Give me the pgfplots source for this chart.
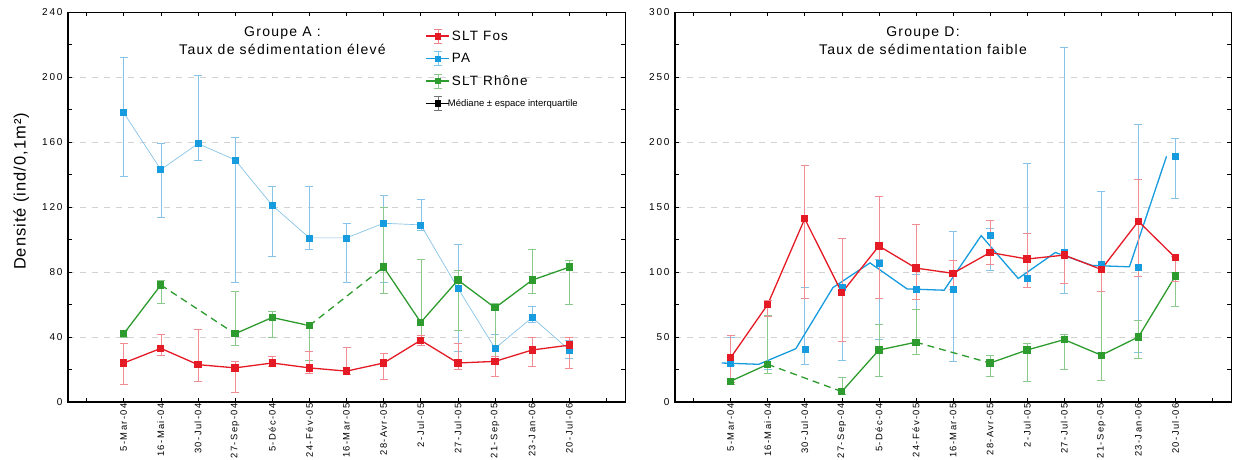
\documentclass[border=0pt]{standalone}
\usepackage{pgfplots}
\pgfplotsset{compat=1.18}
\usepackage{pgfplotstable}
\usepackage{fontspec}
\setmainfont{Liberation Sans}
\newfontfamily\tickfont[LetterSpace=18]{Liberation Sans}
\newfontfamily\xtickfont[LetterSpace=15]{Liberation Sans}
\newfontfamily\titlefont[LetterSpace=9]{Liberation Sans}
\newfontfamily\labfont[LetterSpace=6]{Liberation Sans}
\definecolor{cred}{RGB}{228,26,36}
\definecolor{cblue}{RGB}{22,155,222}
\definecolor{cbluel}{RGB}{135,195,230}
\definecolor{cgreen}{RGB}{45,155,45}

% Groupe A
\pgfplotstableread{
x y lo hi
0 178 139 212
1 143 114 159
2 159 149 201
3 149 74 163
4 121 90 133
5 101 94 133
6 101 74 110
7 110 74 127
8 109 106 125
9 70 31 97
10 33 28 42
11 52 49 59
12 32 27 38
}\paA
\pgfplotstableread{
x y lo hi
0 24 11 36
1 33 29 42
2 23 13 45
3 21 6 25
4 24 22 28
5 21 18 31
6 19 17 34
7 24 14 30
8 38 35 41
9 24 20 36
10 25 16 28
11 32 22 40
12 35 21 40
}\fosA
\pgfplotstableread{
x y lo hi
0 42 40 44
1 72 61 75
2 nan nan nan
3 42 35 68
4 52 40 56
5 47 26 48
6 nan nan nan
7 83 67 120
8 49 40 88
9 75 44 81
10 58 28 61
11 75 67 94
12 83 60 87
}\rhoA
% Groupe D
\pgfplotstableread{
x y lo hi
0 30 28 50
1 29 25 66
2 41 29 88
3 88 32 90
4 107 48 110
5 87 71 98
6 87 31 131
7 128 101 134
8 95 88 184
9 115 84 273
10 106 38 162
11 104 38 214
12 189 157 203
}\paD
\pgfplotstableread{
x y
-0.24 30
0.76 29
1.76 41
2.76 88
3.76 107
4.76 87
5.76 86
6.76 128
7.76 95
8.76 115
9.76 105
10.76 104
11.76 189
}\paDline
\pgfplotstableread{
x y lo hi
0 34 15 51
1 75 66 78
2 141 80 182
3 84 47 126
4 120 80 158
5 103 79 137
6 99 87 109
7 115 106 140
8 110 88 130
9 113 91 114
10 102 85 104
11 139 97 171
12 111 93 112
}\fosD
\pgfplotstableread{
x y lo hi
0 16 14 18
1 29 22 67
2 nan nan nan
3 8 6 19
4 40 20 60
5 46 37 71
6 nan nan nan
7 30 20 36
8 40 16 45
9 48 25 52
10 36 17 85
11 50 34 63
12 97 74 100
}\rhoD

\pgfplotsset{
  base/.style={
    anchor=south west, scale only axis, width=557pt, height=390pt,
    xmin=-1.5, xmax=13.5,
    xtick={-1,...,13},
    xticklabels={{},5-Mar-04,16-Mai-04,30-Jul-04,27-Sep-04,5-Déc-04,24-Fév-05,16-Mar-05,28-Avr-05,2-Jul-05,27-Jul-05,21-Sep-05,23-Jan-06,20-Jul-06,{}},
    xticklabel style={rotate=90, anchor=east, inner sep=1pt, font=\xtickfont\fontsize{9.4}{11}\selectfont},
    yticklabel style={font=\tickfont\fontsize{10}{12}\selectfont, xshift=-2pt},
    /pgf/number format/assume math mode=true,
    tick align=inside, major tick length=4pt, minor tick length=4pt,
    minor y tick num=1,
    tick style={black, line width=0.6pt},
    ymajorgrids, major grid style={gray!35, dash pattern=on 6pt off 6pt, line width=0.5pt},
    axis line style={line width=0.8pt},
    unbounded coords=jump,
    clip=false,
  },
  eb/.style={error bars/.cd, y dir=both, y explicit,
     error bar style={#1, line width=0.5pt, solid},
     error mark=-,
     error mark options={rotate=90, #1, mark size=4pt, line width=0.5pt, solid}},
  sq/.style={mark=square*, mark size=3pt, mark options={solid, fill=#1, draw=#1}},
  legimg/.style={legend image code/.code={
     \draw[line width=1.1pt] (0pt,0pt) -- (23pt,0pt);
     \draw[line width=0.5pt, opacity=0.55] (11.5pt,-7pt) -- (11.5pt,7pt) (7.5pt,7pt) -- (15.5pt,7pt) (7.5pt,-7pt) -- (15.5pt,-7pt);
     \fill (8.8pt,-2.7pt) rectangle (14.2pt,2.7pt);
  }},
}

\begin{document}
\begin{tikzpicture}[x=1pt,y=1pt]
\path[use as bounding box] (0,0) rectangle (1233,459);
% ---------- Groupe A ----------
\begin{axis}[base, at={(68pt,57pt)},
  ymin=0, ymax=240, ytick={0,40,...,240},
  ylabel={Densité (ind/0,1m²)},
  every axis y label/.style={at={(axis description cs:-0.084,0.54)}, rotate=90, anchor=center, font=\labfont\fontsize{16.5}{18}\selectfont},
  legend style={at={(axis description cs:0.642,0.958)}, anchor=north west, draw=none, fill=none, inner sep=0pt, row sep=7.5pt,
     font=\titlefont\fontsize{13.5}{15}\selectfont, cells={anchor=west}, nodes={inner sep=2pt}},
]
\addlegendimage{cred, legimg}\addlegendentry{SLT Fos}
\addlegendimage{cblue, legimg}\addlegendentry{PA}
\addlegendimage{cgreen, legimg}\addlegendentry{SLT Rhône}
\addlegendimage{black, legimg}\addlegendentry{\normalfont\fontsize{9.5}{11}\selectfont\hspace{-4pt}Médiane ± espace interquartile}

\addplot[forget plot, cbluel, line width=0.7pt, sq=cblue, eb=cbluel] table[x=x, y=y, y error plus expr=\thisrow{hi}-\thisrow{y}, y error minus expr=\thisrow{y}-\thisrow{lo}] {\paA};
\addplot[forget plot, cgreen, line width=1.3pt, sq=cgreen, eb=cgreen!55] table[x=x, y=y, y error plus expr=\thisrow{hi}-\thisrow{y}, y error minus expr=\thisrow{y}-\thisrow{lo}] {\rhoA};
\addplot[forget plot, cgreen, line width=1.3pt, dash pattern=on 7pt off 5pt] coordinates {(1,72) (3,42)};
\addplot[forget plot, cgreen, line width=1.3pt, dash pattern=on 7pt off 5pt] coordinates {(5,47) (7,83)};
\addplot[forget plot, cred, line width=1.3pt, sq=cred, eb=cred!50] table[x=x, y=y, y error plus expr=\thisrow{hi}-\thisrow{y}, y error minus expr=\thisrow{y}-\thisrow{lo}] {\fosA};

\node[align=center, font=\titlefont\fontsize{14}{18}\selectfont] at (axis description cs:0.385,0.926) {Groupe A :\\Taux de sédimentation élevé};
\draw[line width=1.4pt] (rel axis cs:0,1) -- (rel axis cs:0,0) -- (rel axis cs:1,0);
\end{axis}
% ---------- Groupe D ----------
\begin{axis}[base, at={(675pt,57pt)}, width=556pt,
  ymin=0, ymax=300, ytick={0,50,...,300},
]
\addplot[only marks, cblue, sq=cblue, eb=cbluel] table[x=x, y=y, y error plus expr=\thisrow{hi}-\thisrow{y}, y error minus expr=\thisrow{y}-\thisrow{lo}] {\paD};
\addplot[cblue, line width=1.3pt, no marks] table[x=x, y=y] {\paDline};
\addplot[cgreen, line width=1.3pt, sq=cgreen, eb=cgreen!55] table[x=x, y=y, y error plus expr=\thisrow{hi}-\thisrow{y}, y error minus expr=\thisrow{y}-\thisrow{lo}] {\rhoD};
\addplot[cgreen, line width=1.3pt, dash pattern=on 7pt off 5pt] coordinates {(1,29) (3,8)};
\addplot[cgreen, line width=1.3pt, dash pattern=on 7pt off 5pt] coordinates {(5,46) (7,30)};
\addplot[cred, line width=1.3pt, sq=cred, eb=cred!50] table[x=x, y=y, y error plus expr=\thisrow{hi}-\thisrow{y}, y error minus expr=\thisrow{y}-\thisrow{lo}] {\fosD};

\node[align=center, font=\titlefont\fontsize{14}{18}\selectfont] at (axis description cs:0.446,0.926) {Groupe D:\\Taux de sédimentation faible};
\draw[line width=1.4pt] (rel axis cs:0,1) -- (rel axis cs:0,0) -- (rel axis cs:1,0);
\end{axis}
\end{tikzpicture}
\end{document}
